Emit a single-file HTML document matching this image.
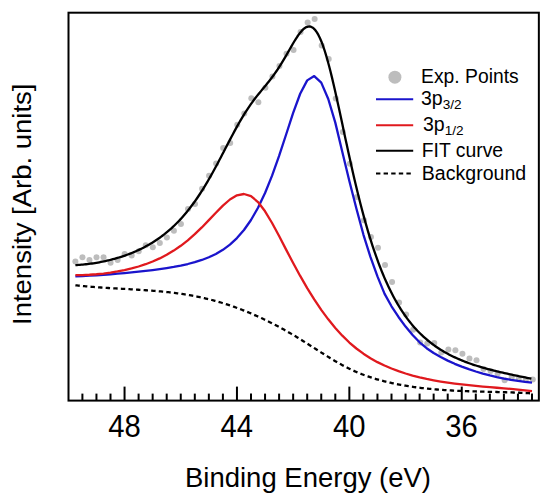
<!DOCTYPE html>
<html><head><meta charset="utf-8"><style>
html,body{margin:0;padding:0;background:#fff;width:550px;height:502px;overflow:hidden}
svg{display:block}
text{font-family:"Liberation Sans",sans-serif;fill:#000}
</style></head><body>
<svg width="550" height="502" viewBox="0 0 550 502">
<rect width="550" height="502" fill="#fff"/>
<g fill="#bdbdbd" stroke="none">
<circle cx="75.39" cy="261.40" r="3"/>
<circle cx="82.43" cy="257.30" r="3"/>
<circle cx="89.46" cy="259.90" r="3"/>
<circle cx="96.50" cy="257.30" r="3"/>
<circle cx="103.54" cy="257.30" r="3"/>
<circle cx="110.58" cy="262.80" r="3"/>
<circle cx="117.61" cy="259.90" r="3"/>
<circle cx="124.65" cy="254.10" r="3"/>
<circle cx="131.69" cy="255.50" r="3"/>
<circle cx="138.72" cy="251.20" r="3"/>
<circle cx="145.76" cy="245.20" r="3"/>
<circle cx="152.80" cy="247.20" r="3"/>
<circle cx="159.83" cy="243.00" r="3"/>
<circle cx="166.87" cy="237.50" r="3"/>
<circle cx="173.91" cy="230.70" r="3"/>
<circle cx="180.94" cy="224.00" r="3"/>
<circle cx="187.98" cy="209.10" r="3"/>
<circle cx="195.02" cy="203.90" r="3"/>
<circle cx="202.06" cy="188.80" r="3"/>
<circle cx="209.09" cy="175.80" r="3"/>
<circle cx="216.13" cy="163.60" r="3"/>
<circle cx="223.17" cy="147.90" r="3"/>
<circle cx="230.20" cy="142.90" r="3"/>
<circle cx="237.24" cy="124.70" r="3"/>
<circle cx="244.28" cy="113.60" r="3"/>
<circle cx="251.31" cy="98.20" r="3"/>
<circle cx="258.35" cy="102.30" r="3"/>
<circle cx="265.39" cy="87.80" r="3"/>
<circle cx="272.43" cy="76.50" r="3"/>
<circle cx="279.46" cy="66.10" r="3"/>
<circle cx="286.50" cy="53.80" r="3"/>
<circle cx="293.54" cy="50.00" r="3"/>
<circle cx="300.57" cy="32.00" r="3"/>
<circle cx="307.61" cy="22.50" r="3"/>
<circle cx="314.65" cy="18.90" r="3"/>
<circle cx="321.69" cy="45.60" r="3"/>
<circle cx="328.72" cy="58.90" r="3"/>
<circle cx="335.76" cy="98.50" r="3"/>
<circle cx="342.80" cy="132.00" r="3"/>
<circle cx="349.83" cy="163.80" r="3"/>
<circle cx="356.87" cy="197.00" r="3"/>
<circle cx="363.91" cy="220.30" r="3"/>
<circle cx="370.94" cy="237.00" r="3"/>
<circle cx="377.98" cy="247.70" r="3"/>
<circle cx="385.02" cy="265.00" r="3"/>
<circle cx="392.06" cy="281.90" r="3"/>
<circle cx="399.09" cy="302.40" r="3"/>
<circle cx="406.13" cy="314.40" r="3"/>
<circle cx="413.17" cy="329.70" r="3"/>
<circle cx="420.20" cy="342.60" r="3"/>
<circle cx="427.24" cy="343.60" r="3"/>
<circle cx="434.28" cy="343.00" r="3"/>
<circle cx="441.31" cy="352.40" r="3"/>
<circle cx="448.35" cy="349.60" r="3"/>
<circle cx="455.39" cy="350.20" r="3"/>
<circle cx="462.42" cy="353.80" r="3"/>
<circle cx="469.46" cy="358.60" r="3"/>
<circle cx="476.50" cy="360.30" r="3"/>
<circle cx="483.54" cy="369.00" r="3"/>
<circle cx="490.57" cy="371.00" r="3"/>
<circle cx="497.61" cy="373.50" r="3"/>
<circle cx="504.65" cy="380.30" r="3"/>
<circle cx="511.68" cy="377.50" r="3"/>
<circle cx="518.72" cy="379.00" r="3"/>
<circle cx="525.76" cy="380.00" r="3"/>
<circle cx="532.79" cy="379.40" r="3"/>
</g>
<g fill="none" stroke-width="2.3" stroke-linejoin="round">
<polyline stroke="#000" stroke-dasharray="4.4,3.2" points="75.38,285.29 76.88,285.45 78.38,285.61 79.88,285.77 81.38,285.92 82.88,286.07 84.38,286.21 85.88,286.34 87.38,286.48 88.88,286.61 90.38,286.73 91.88,286.85 93.38,286.97 94.88,287.08 96.38,287.20 97.88,287.30 99.38,287.41 100.88,287.51 102.38,287.61 103.88,287.71 105.38,287.81 106.88,287.90 108.38,287.99 109.88,288.09 111.38,288.17 112.88,288.26 114.38,288.35 115.88,288.44 117.38,288.52 118.88,288.61 120.38,288.69 121.88,288.78 123.38,288.86 124.88,288.95 126.38,289.03 127.88,289.12 129.38,289.20 130.88,289.29 132.38,289.38 133.88,289.47 135.38,289.56 136.88,289.65 138.38,289.74 139.88,289.84 141.38,289.93 142.88,290.03 144.38,290.14 145.88,290.24 147.38,290.35 148.88,290.46 150.38,290.57 151.88,290.69 153.38,290.81 154.88,290.93 156.38,291.06 157.88,291.19 159.38,291.33 160.88,291.47 162.38,291.61 163.88,291.76 165.38,291.91 166.88,292.07 168.38,292.23 169.88,292.40 171.38,292.58 172.88,292.76 174.38,292.94 175.88,293.14 177.38,293.33 178.88,293.54 180.38,293.75 181.88,293.97 183.38,294.19 184.88,294.42 186.38,294.66 187.88,294.91 189.38,295.16 190.88,295.43 192.38,295.70 193.88,295.97 195.38,296.26 196.88,296.55 198.38,296.86 199.88,297.17 201.38,297.49 202.88,297.82 204.38,298.16 205.88,298.51 207.38,298.86 208.88,299.23 210.38,299.61 211.88,300.00 213.38,300.39 214.88,300.80 216.38,301.22 217.88,301.64 219.38,302.08 220.88,302.52 222.38,302.98 223.88,303.44 225.38,303.91 226.88,304.40 228.38,304.89 229.88,305.39 231.38,305.90 232.88,306.42 234.38,306.95 235.88,307.49 237.38,308.04 238.88,308.60 240.38,309.17 241.88,309.75 243.38,310.33 244.88,310.93 246.38,311.53 247.88,312.15 249.38,312.77 250.88,313.40 252.38,314.04 253.88,314.69 255.38,315.35 256.88,316.02 258.38,316.70 259.88,317.39 261.38,318.08 262.88,318.79 264.38,319.50 265.88,320.23 267.38,320.96 268.88,321.70 270.38,322.45 271.88,323.21 273.38,323.98 274.88,324.75 276.38,325.54 277.88,326.33 279.38,327.14 280.88,327.95 282.38,328.77 283.88,329.60 285.38,330.44 286.88,331.28 288.38,332.14 289.88,333.00 291.38,333.88 292.88,334.76 294.38,335.65 295.88,336.55 297.38,337.45 298.88,338.37 300.38,339.29 301.88,340.22 303.38,341.16 304.88,342.10 306.38,343.05 307.88,344.00 309.38,344.96 310.88,345.91 312.38,346.87 313.88,347.83 315.38,348.79 316.88,349.75 318.38,350.71 319.88,351.66 321.38,352.61 322.88,353.56 324.38,354.50 325.88,355.44 327.38,356.37 328.88,357.29 330.38,358.21 331.88,359.11 333.38,360.01 334.88,360.89 336.38,361.77 337.88,362.63 339.38,363.48 340.88,364.31 342.38,365.14 343.88,365.94 345.38,366.73 346.88,367.50 348.38,368.26 349.88,369.00 351.38,369.71 352.88,370.41 354.38,371.09 355.88,371.75 357.38,372.39 358.88,373.02 360.38,373.63 361.88,374.22 363.38,374.79 364.88,375.35 366.38,375.89 367.88,376.42 369.38,376.93 370.88,377.43 372.38,377.92 373.88,378.39 375.38,378.84 376.88,379.28 378.38,379.71 379.88,380.13 381.38,380.54 382.88,380.93 384.38,381.31 385.88,381.68 387.38,382.05 388.88,382.40 390.38,382.74 391.88,383.07 393.38,383.39 394.88,383.70 396.38,384.01 397.88,384.31 399.38,384.59 400.88,384.87 402.38,385.15 403.88,385.41 405.38,385.67 406.88,385.92 408.38,386.16 409.88,386.39 411.38,386.62 412.88,386.84 414.38,387.05 415.88,387.26 417.38,387.46 418.88,387.65 420.38,387.84 421.88,388.02 423.38,388.19 424.88,388.36 426.38,388.52 427.88,388.68 429.38,388.83 430.88,388.98 432.38,389.12 433.88,389.25 435.38,389.38 436.88,389.51 438.38,389.63 439.88,389.74 441.38,389.85 442.88,389.96 444.38,390.06 445.88,390.16 447.38,390.25 448.88,390.35 450.38,390.43 451.88,390.52 453.38,390.60 454.88,390.67 456.38,390.74 457.88,390.82 459.38,390.88 460.88,390.95 462.38,391.01 463.88,391.07 465.38,391.13 466.88,391.18 468.38,391.23 469.88,391.28 471.38,391.33 472.88,391.38 474.38,391.42 475.88,391.47 477.38,391.51 478.88,391.55 480.38,391.59 481.88,391.63 483.38,391.67 484.88,391.71 486.38,391.75 487.88,391.79 489.38,391.82 490.88,391.86 492.38,391.90 493.88,391.94 495.38,391.97 496.88,392.01 498.38,392.05 499.88,392.09 501.38,392.13 502.88,392.17 504.38,392.21 505.88,392.26 507.38,392.30 508.88,392.35 510.38,392.40 511.88,392.45 513.38,392.50 514.88,392.55 516.38,392.61 517.88,392.67 519.38,392.73 520.88,392.79 522.38,392.86 523.88,392.93 525.38,393.00 526.88,393.07 528.38,393.15 529.88,393.23 531.38,393.32"/>
<polyline stroke="#1a14cc" points="75.38,276.31 82.40,276.04 89.42,275.69 96.45,275.28 103.47,274.81 110.50,274.28 117.53,273.70 124.55,273.08 131.57,272.41 138.60,271.68 145.62,270.89 152.65,270.04 159.68,269.10 166.70,268.06 173.72,266.90 180.75,265.56 187.78,264.01 194.80,262.18 201.82,259.97 208.85,257.28 215.88,253.96 222.90,249.82 229.93,244.63 236.95,238.12 243.97,230.01 251.00,219.97 258.02,207.70 265.05,192.95 272.08,175.63 279.10,155.92 286.12,134.51 293.15,112.93 300.18,93.76 307.20,80.38 314.23,76.10 321.25,82.58 328.27,98.98 335.30,122.63 342.33,151.97 349.35,180.94 356.38,208.52 363.40,234.57 370.42,256.91 377.45,276.39 384.48,293.64 391.50,306.28 398.52,316.98 405.55,326.57 412.58,335.05 419.60,342.28 426.62,348.18 433.65,353.00 440.68,357.07 447.70,360.64 454.73,363.81 461.75,366.65 468.77,369.20 475.80,371.49 482.83,373.55 489.85,375.40 496.88,377.06 503.90,378.52 510.93,379.79 517.95,380.89 524.98,381.79 532.00,382.52"/>
<polyline stroke="#e0191e" points="75.38,275.16 82.40,275.06 89.42,274.76 96.45,274.26 103.47,273.55 110.50,272.63 117.53,271.48 124.55,270.10 131.57,268.44 138.60,266.49 145.62,264.20 152.65,261.52 159.68,258.41 166.70,254.79 173.72,250.61 180.75,245.81 187.78,240.35 194.80,234.20 201.82,227.43 208.85,220.17 215.88,212.73 222.90,205.60 229.93,199.50 236.95,195.35 243.97,194.00 251.00,196.11 258.02,202.01 265.05,211.29 272.08,222.99 279.10,236.08 286.12,249.64 293.15,263.05 300.18,275.93 307.20,288.09 314.23,299.40 321.25,309.82 328.27,319.33 335.30,327.95 342.33,335.67 349.35,342.52 356.38,348.50 363.40,353.69 370.42,358.21 377.45,362.13 384.48,365.55 391.50,368.54 398.52,371.17 405.55,373.49 412.58,375.54 419.60,377.34 426.62,378.92 433.65,380.31 440.68,381.54 447.70,382.62 454.73,383.58 461.75,384.43 468.77,385.19 475.80,385.89 482.83,386.54 489.85,387.15 496.88,387.75 503.90,388.35 510.93,388.97 517.95,389.62 524.98,390.31 532.00,391.07"/>
<polyline stroke="#000" points="75.38,265.16 76.88,265.06 78.38,264.96 79.88,264.84 81.38,264.71 82.88,264.57 84.38,264.42 85.88,264.26 87.38,264.08 88.88,263.90 90.38,263.70 91.88,263.49 93.38,263.27 94.88,263.03 96.38,262.79 97.88,262.53 99.38,262.26 100.88,261.97 102.38,261.68 103.88,261.37 105.38,261.04 106.88,260.71 108.38,260.36 109.88,260.00 111.38,259.62 112.88,259.23 114.38,258.82 115.88,258.41 117.38,257.97 118.88,257.52 120.38,257.06 121.88,256.57 123.38,256.08 124.88,255.56 126.38,255.03 127.88,254.48 129.38,253.92 130.88,253.33 132.38,252.73 133.88,252.11 135.38,251.46 136.88,250.80 138.38,250.12 139.88,249.41 141.38,248.68 142.88,247.93 144.38,247.16 145.88,246.36 147.38,245.53 148.88,244.68 150.38,243.81 151.88,242.91 153.38,241.97 154.88,241.01 156.38,240.02 157.88,239.00 159.38,237.95 160.88,236.87 162.38,235.75 163.88,234.60 165.38,233.41 166.88,232.19 168.38,230.93 169.88,229.63 171.38,228.29 172.88,226.91 174.38,225.49 175.88,224.02 177.38,222.51 178.88,220.96 180.38,219.36 181.88,217.72 183.38,216.02 184.88,214.28 186.38,212.49 187.88,210.64 189.38,208.75 190.88,206.80 192.38,204.80 193.88,202.75 195.38,200.64 196.88,198.48 198.38,196.26 199.88,194.00 201.38,191.67 202.88,189.29 204.38,186.87 205.88,184.39 207.38,181.85 208.88,179.28 210.38,176.65 211.88,173.98 213.38,171.27 214.88,168.52 216.38,165.74 217.88,162.92 219.38,160.08 220.88,157.21 222.38,154.33 223.88,151.44 225.38,148.54 226.88,145.64 228.38,142.76 229.88,139.88 231.38,137.02 232.88,134.20 234.38,131.40 235.88,128.64 237.38,125.93 238.88,123.27 240.38,120.67 241.88,118.12 243.38,115.63 244.88,113.21 246.38,110.85 247.88,108.56 249.38,106.32 250.88,104.16 252.38,102.07 253.88,100.04 255.38,98.07 256.88,96.16 258.38,94.28 259.88,92.44 261.38,90.61 262.88,88.80 264.38,86.99 265.88,85.17 267.38,83.32 268.88,81.44 270.38,79.52 271.88,77.55 273.38,75.52 274.88,73.42 276.38,71.26 277.88,69.02 279.38,66.71 280.88,64.33 282.38,61.89 283.88,59.38 285.38,56.82 286.88,54.23 288.38,51.60 289.88,48.97 291.38,46.36 292.88,43.78 294.38,41.26 295.88,38.83 297.38,36.53 298.88,34.38 300.38,32.41 301.88,30.67 303.38,29.18 304.88,27.98 306.38,27.11 307.88,26.59 309.38,26.46 310.88,26.74 312.38,27.45 313.88,28.61 315.38,30.24 316.88,32.34 318.38,34.91 319.88,37.95 321.38,41.46 322.88,45.41 324.38,49.78 325.88,54.56 327.38,59.72 328.88,65.21 330.38,71.02 331.88,77.10 333.38,83.42 334.88,89.94 336.38,96.63 337.88,103.45 339.38,110.36 340.88,117.34 342.38,124.36 343.88,131.39 345.38,138.39 346.88,145.36 348.38,152.26 349.88,159.09 351.38,165.81 352.88,172.43 354.38,178.92 355.88,185.28 357.38,191.50 358.88,197.58 360.38,203.51 361.88,209.28 363.38,214.90 364.88,220.36 366.38,225.66 367.88,230.81 369.38,235.80 370.88,240.64 372.38,245.32 373.88,249.85 375.38,254.23 376.88,258.47 378.38,262.56 379.88,266.52 381.38,270.34 382.88,274.03 384.38,277.59 385.88,281.02 387.38,284.34 388.88,287.54 390.38,290.62 391.88,293.60 393.38,296.47 394.88,299.23 396.38,301.90 397.88,304.48 399.38,306.96 400.88,309.35 402.38,311.66 403.88,313.89 405.38,316.03 406.88,318.10 408.38,320.10 409.88,322.03 411.38,323.88 412.88,325.67 414.38,327.40 415.88,329.07 417.38,330.68 418.88,332.23 420.38,333.73 421.88,335.18 423.38,336.58 424.88,337.93 426.38,339.24 427.88,340.50 429.38,341.72 430.88,342.90 432.38,344.04 433.88,345.14 435.38,346.21 436.88,347.24 438.38,348.24 439.88,349.20 441.38,350.14 442.88,351.05 444.38,351.93 445.88,352.78 447.38,353.61 448.88,354.41 450.38,355.19 451.88,355.94 453.38,356.67 454.88,357.38 456.38,358.08 457.88,358.75 459.38,359.40 460.88,360.03 462.38,360.65 463.88,361.25 465.38,361.83 466.88,362.40 468.38,362.96 469.88,363.50 471.38,364.02 472.88,364.54 474.38,365.04 475.88,365.52 477.38,366.00 478.88,366.47 480.38,366.92 481.88,367.36 483.38,367.80 484.88,368.22 486.38,368.64 487.88,369.05 489.38,369.45 490.88,369.84 492.38,370.22 493.88,370.60 495.38,370.97 496.88,371.34 498.38,371.70 499.88,372.05 501.38,372.40 502.88,372.74 504.38,373.08 505.88,373.41 507.38,373.74 508.88,374.07 510.38,374.39 511.88,374.71 513.38,375.02 514.88,375.34 516.38,375.65 517.88,375.96 519.38,376.27 520.88,376.57 522.38,376.87 523.88,377.18 525.38,377.48 526.88,377.78 528.38,378.08 529.88,378.38 531.38,378.68"/>
</g>
<g stroke="#000" stroke-width="2" fill="none">
<rect x="68.5" y="12.7" width="470.35" height="387.9"/>
<line x1="82.40" y1="400.6" x2="82.40" y2="393.60"/>
<line x1="96.45" y1="400.6" x2="96.45" y2="393.60"/>
<line x1="110.50" y1="400.6" x2="110.50" y2="393.60"/>
<line x1="124.55" y1="400.6" x2="124.55" y2="386.60"/>
<line x1="138.60" y1="400.6" x2="138.60" y2="393.60"/>
<line x1="152.65" y1="400.6" x2="152.65" y2="393.60"/>
<line x1="166.70" y1="400.6" x2="166.70" y2="393.60"/>
<line x1="180.75" y1="400.6" x2="180.75" y2="393.60"/>
<line x1="194.80" y1="400.6" x2="194.80" y2="393.60"/>
<line x1="208.85" y1="400.6" x2="208.85" y2="393.60"/>
<line x1="222.90" y1="400.6" x2="222.90" y2="393.60"/>
<line x1="236.95" y1="400.6" x2="236.95" y2="386.60"/>
<line x1="251.00" y1="400.6" x2="251.00" y2="393.60"/>
<line x1="265.05" y1="400.6" x2="265.05" y2="393.60"/>
<line x1="279.10" y1="400.6" x2="279.10" y2="393.60"/>
<line x1="293.15" y1="400.6" x2="293.15" y2="393.60"/>
<line x1="307.20" y1="400.6" x2="307.20" y2="393.60"/>
<line x1="321.25" y1="400.6" x2="321.25" y2="393.60"/>
<line x1="335.30" y1="400.6" x2="335.30" y2="393.60"/>
<line x1="349.35" y1="400.6" x2="349.35" y2="386.60"/>
<line x1="363.40" y1="400.6" x2="363.40" y2="393.60"/>
<line x1="377.45" y1="400.6" x2="377.45" y2="393.60"/>
<line x1="391.50" y1="400.6" x2="391.50" y2="393.60"/>
<line x1="405.55" y1="400.6" x2="405.55" y2="393.60"/>
<line x1="419.60" y1="400.6" x2="419.60" y2="393.60"/>
<line x1="433.65" y1="400.6" x2="433.65" y2="393.60"/>
<line x1="447.70" y1="400.6" x2="447.70" y2="393.60"/>
<line x1="461.75" y1="400.6" x2="461.75" y2="386.60"/>
<line x1="475.80" y1="400.6" x2="475.80" y2="393.60"/>
<line x1="489.85" y1="400.6" x2="489.85" y2="393.60"/>
<line x1="503.90" y1="400.6" x2="503.90" y2="393.60"/>
<line x1="517.95" y1="400.6" x2="517.95" y2="393.60"/>
<line x1="532.00" y1="400.6" x2="532.00" y2="393.60"/>
</g>
<g font-size="30.5">
<text x="108.15" y="436.8" textLength="32.5" lengthAdjust="spacingAndGlyphs">48</text>
<text x="220.55" y="436.8" textLength="32.5" lengthAdjust="spacingAndGlyphs">44</text>
<text x="332.95" y="436.8" textLength="32.5" lengthAdjust="spacingAndGlyphs">40</text>
<text x="445.35" y="436.8" textLength="32.5" lengthAdjust="spacingAndGlyphs">36</text>
</g>
<text x="185" y="487" font-size="27" textLength="246" lengthAdjust="spacingAndGlyphs">Binding Energy (eV)</text>
<text transform="translate(30.9,325) rotate(-90)" x="0" y="0" font-size="26" textLength="241.5" lengthAdjust="spacingAndGlyphs">Intensity [Arb. units]</text>
<!-- legend -->
<circle cx="394.9" cy="77.2" r="6.5" fill="#bdbdbd"/>
<g stroke-width="2">
<line x1="376" y1="99.3" x2="413.2" y2="99.3" stroke="#1a14cc"/>
<line x1="376" y1="125.3" x2="413.2" y2="125.3" stroke="#e0191e"/>
<line x1="376" y1="150.8" x2="413.2" y2="150.8" stroke="#000"/>
<line x1="376" y1="173.6" x2="412" y2="173.6" stroke="#000" stroke-dasharray="4.4,3.2"/>
</g>
<g font-size="19.5">
<text x="421.1" y="83" textLength="97.6" lengthAdjust="spacingAndGlyphs">Exp. Points</text>
<text x="421" y="105">3p<tspan font-size="13.6" dy="4.4">3/2</tspan></text>
<text x="423" y="131">3p<tspan font-size="13.6" dy="4.4">1/2</tspan></text>
<text x="421.8" y="157" textLength="81.3" lengthAdjust="spacingAndGlyphs">FIT curve</text>
<text x="421.8" y="179.5" textLength="104.4" lengthAdjust="spacingAndGlyphs">Background</text>
</g>
</svg>
</body></html>
